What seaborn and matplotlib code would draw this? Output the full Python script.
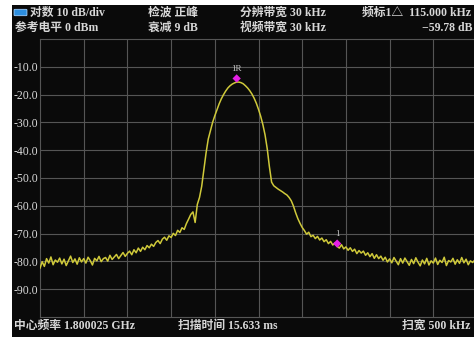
import numpy as np
import pandas as pd
import matplotlib
matplotlib.use("Agg")
import matplotlib.pyplot as plt
import seaborn as sns
from matplotlib.patches import Rectangle, FancyBboxPatch

# ---------------- data ----------------
sweep_start_khz = -225.0     # offset from 1.8 GHz
sweep_step_khz = 2.5
level_dbm = [
    -82.5, -80.1, -81.8, -79.0, -80.6, -78.4, -81.2, -79.5, -80.3, -78.8,
    -80.9, -79.2, -81.5, -79.8, -78.1, -80.4, -79.1, -81.0, -78.7, -80.2,
    -79.0, -80.6, -78.5, -79.7, -81.3, -78.9, -79.8, -78.2, -80.1, -79.0,
    -78.6, -79.9, -77.8, -79.3, -78.4, -77.5, -79.0, -77.9, -76.8, -78.2,
    -77.1, -76.3, -77.6, -75.8, -76.9, -75.2, -76.4, -74.9, -75.8, -74.3,
    -75.1, -73.8, -74.6, -73.2, -72.5, -73.6, -72.0, -71.3, -72.4, -70.8,
    -71.4, -69.9, -70.7, -68.8, -69.6, -67.9, -68.5, -66.4, -64.8, -63.1,
    -62.2, -66.0, -59.5, -57.0, -53.0, -47.0, -41.0, -36.0, -33.0, -30.0,
    -27.6, -25.4, -23.3, -21.5, -20.0, -18.7, -17.6, -16.8, -16.2, -15.8,
    -15.5, -15.5, -15.7, -16.1, -16.8, -17.6, -18.6, -19.8, -21.3, -23.1,
    -25.3, -27.8, -30.8, -34.5, -39.5, -46.0, -51.5, -52.8, -53.4, -54.0,
    -54.5, -55.0, -55.6, -56.1, -57.0, -58.2, -60.1, -62.5, -64.6, -66.3,
    -67.8, -68.9, -70.2, -69.5, -71.1, -70.6, -71.8, -71.0, -72.3, -71.6,
    -72.9, -72.2, -73.6, -72.8, -74.1, -73.3, -74.6, -75.2, -74.0, -75.5,
    -74.8, -76.0, -75.1, -76.4, -75.6, -77.2, -76.1, -77.0, -76.3, -77.8,
    -76.9, -78.3, -77.2, -78.9, -77.6, -79.0, -78.1, -79.6, -78.5, -80.2,
    -79.1, -80.5, -78.6, -79.9, -81.2, -79.0, -80.6, -78.8, -80.1, -81.4,
    -79.3, -80.8, -78.7, -80.3, -81.6, -79.5, -80.9, -78.9, -81.3, -79.8,
    -80.6, -78.8, -81.1, -79.6, -80.4, -78.5, -81.5, -79.7, -80.2, -78.9,
    -81.0, -79.4, -80.7, -78.6, -80.5, -79.2, -81.2, -79.8, -80.4, -79.5,
    -80.6,
]
marker_freq_khz = [0.0, 115.0]
marker_level_dbm = [-14.2, -73.6]
marker_labels = ["1R", "1"]

y_ticks = [-10, -20, -30, -40, -50, -60, -70, -80, -90]
y_tick_labels = ["-10.0", "-20.0", "-30.0", "-40.0", "-50.0",
                 "-60.0", "-70.0", "-80.0", "-90.0"]
x_grid_khz = [-175, -125, -75, -25, 25, 75, 125, 175, 225]

header_row1 = [("对数 10 dB/div", 30), ("检波 正峰", 148),
               ("分辨带宽 30 kHz", 240), ("频标1△  115.000 kHz", 362)]
header_row2 = [("参考电平 0 dBm", 15), ("衰减 9 dB", 148),
               ("视频带宽 30 kHz", 240), ("−59.78 dB", 422)]
footer_row = [("中心频率 1.800025 GHz", 14), ("扫描时间 15.633 ms", 178),
              ("扫宽 500 kHz", 402)]

# ---------------- style ----------------
BG = "#0a0a0a"
GRID = "#555555"
TXT = "#d8d8d8"
TRACE = "#cfc93a"
MARK = "#e51fe5"

sns.set_style("dark", rc={"axes.facecolor": BG, "figure.facecolor": BG})
FAM = ["Liberation Serif", "Noto Sans CJK SC", "DejaVu Sans"]
plt.rcParams["font.family"] = FAM

W, H = 474, 337
fig = plt.figure(figsize=(W / 100, H / 100), dpi=100, facecolor=BG)

# white screenshot margins
fig.patches.append(Rectangle((0, 0), 12 / W, 1, transform=fig.transFigure,
                             facecolor="white", edgecolor="none", zorder=0))
fig.patches.append(Rectangle((0, 1 - 5 / H), 1, 5 / H, transform=fig.transFigure,
                             facecolor="white", edgecolor="none", zorder=0))

ax = fig.add_axes([40 / W, 20 / H, 437 / W, 278 / H])
ax.set_facecolor(BG)

freq = sweep_start_khz + sweep_step_khz * np.arange(len(level_dbm))
df = pd.DataFrame({"freq": freq, "level": level_dbm})
sns.lineplot(data=df, x="freq", y="level", color=TRACE, lw=1.1, ax=ax, zorder=3)

mdf = pd.DataFrame({"freq": marker_freq_khz, "level": marker_level_dbm})
sns.scatterplot(data=mdf, x="freq", y="level", marker="D", s=18, color=MARK,
                edgecolor="none", ax=ax, zorder=5)
for f, l, lab in zip(marker_freq_khz, marker_level_dbm, marker_labels):
    ax.annotate(lab, (f, l), xytext=(0, 4), textcoords="offset points",
                ha="center", va="bottom", color="#c4c4c4", fontsize=6.5)

ax.set_xlim(-225, 275)
ax.set_ylim(-100, 0)
ax.set_xticks(x_grid_khz)
ax.set_xticklabels([])
ax.set_yticks(y_ticks)
ax.set_yticklabels(y_tick_labels)
ax.set_xlabel("")
ax.set_ylabel("")
ax.tick_params(length=0, pad=1.5, labelcolor=TXT, labelsize=8.5)
ax.grid(True, color=GRID, lw=0.8)
for s in ax.spines.values():
    s.set_color(GRID)
    s.set_linewidth(0.8)
    s.set_visible(True)

# header icon
fig.patches.append(FancyBboxPatch((15 / W, 1 - 15 / H), 11 / W, 5 / H,
                                  boxstyle="round,pad=0.002",
                                  transform=fig.transFigure,
                                  facecolor="#2d8fe0", edgecolor="#9fd0ff", lw=0.6))

def put(txt, x, y):
    fig.text(x / W, 1 - y / H, txt, color=TXT, fontsize=8.5, ha="left",
             va="center", family=FAM, fontweight="bold")

for t, x in header_row1:
    put(t, x, 13)
for t, x in header_row2:
    put(t, x, 28)
for t, x in footer_row:
    put(t, x, 326)

fig.savefig("out.png", dpi=100, facecolor=BG)
